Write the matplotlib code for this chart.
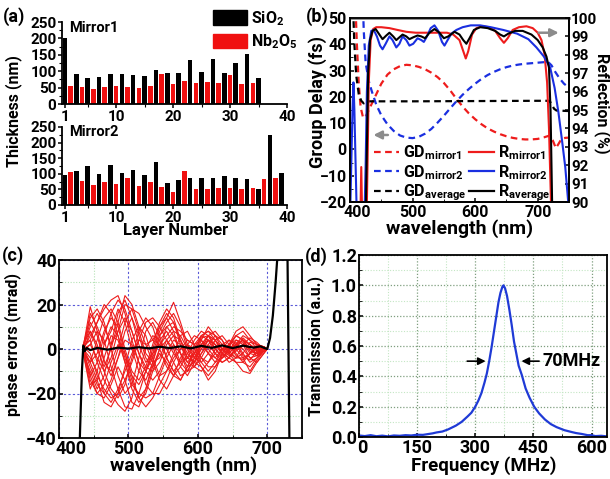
import matplotlib
matplotlib.use("Agg")
import matplotlib.pyplot as plt
from matplotlib.patches import Patch
from matplotlib.lines import Line2D
from matplotlib.ticker import MultipleLocator
from matplotlib.transforms import ScaledTranslation

FONT = 'Roboto'
plt.rcParams['font.family'] = [FONT, 'DejaVu Sans']
plt.rcParams['font.weight'] = 'bold'
plt.rcParams['axes.labelweight'] = 'bold'
plt.rcParams['mathtext.fontset'] = 'custom'
plt.rcParams['mathtext.rm'] = FONT + ':bold'
plt.rcParams['mathtext.it'] = FONT + ':bold:italic'
plt.rcParams['mathtext.bf'] = FONT + ':bold'
plt.rcParams['axes.linewidth'] = 1.3

RED = '#ee1c1c'
BLUE = '#1a2fe0'

# ---- (a) 膜层厚度 (nm)，奇数层 SiO2，偶数层 Nb2O5
m1_thick = [200, 55, 90, 53, 80, 45, 83, 53, 90, 55, 90, 53, 87, 50, 85, 55, 105, 90,
            95, 60, 95, 70, 133, 65, 98, 68, 138, 65, 95, 87, 125, 60, 153, 65, 78]
m2_thick = [95, 105, 108, 78, 125, 65, 100, 75, 127, 67, 103, 85, 112, 62, 97, 73, 138, 57,
            72, 43, 80, 110, 87, 52, 85, 52, 88, 55, 92, 55, 87, 50, 82, 55, 52, 82, 225, 87, 103]

# ---- (b) 群延迟 (fs) 与反射率 (%)
gd1_wl = [408, 411, 414, 417, 421, 426, 432, 440, 450, 460, 470, 480, 490, 500, 510, 520, 530,
          540, 550, 560, 570, 580, 590, 600, 610, 620, 630, 640, 650, 660, 670, 680, 690, 700,
          710, 718, 724, 729, 733, 738, 744, 750]
gd1 = [60, 40, 25, 16, 12, 13, 16, 20, 25, 28.5, 30.5, 31.7, 32.2, 32, 31.4, 30.5, 29.2,
       27.5, 25.3, 22.5, 19.3, 16.3, 13.7, 11.5, 9.6, 8, 6.8, 5.8, 5, 4.4, 4, 3.8, 3.8, 4,
       4.6, 5.2, 3.5, 0.5, 2, 4, 4.4, 4.5]
gd2_wl = [420, 422, 425, 430, 435, 442, 450, 460, 470, 480, 490, 500, 510, 520, 530, 540, 550,
          560, 570, 580, 590, 600, 610, 620, 630, 640, 650, 660, 670, 680, 690, 700, 710, 716,
          722, 728, 735, 742, 750]
gd2 = [60, 45, 33, 26, 22, 17, 13, 9.5, 7, 5.3, 4.5, 4.3, 4.8, 6, 7.8, 10.2, 12.8,
       15.6, 18.3, 20.8, 23, 25, 26.8, 28.3, 29.5, 30.5, 31.3, 31.9, 32.3, 32.6, 32.8, 33, 33.2, 33.4,
       32, 29.5, 27, 25, 23.5]
gda_wl = [404, 407, 410, 414, 418, 422, 426, 430, 500, 600, 700, 718, 722, 726, 730, 750]
gda = [60, 40, 28, 21, 18.5, 17.5, 18.5, 18.3, 18.3, 18.4, 18.5, 18.5, 17.5, 15.5, 14.8, 14.6]

r1_wl = [416, 418, 420, 426, 428, 430, 433, 437, 442, 450, 463, 476, 490, 505, 522, 540, 555,
         565, 575, 581, 585, 589, 595, 602, 612, 622, 632, 640, 646, 652, 660, 670, 682, 692,
         700, 706, 711, 715, 718, 720, 722]
r1 = [88, 91.9, 88, 88, 92, 96.5, 98.8, 99.4, 99.5, 99.5, 99.45, 99.35, 99.25, 99.2, 99.2, 99.2, 99.2,
      99.1, 98.8, 98.2, 97.8, 98.2, 99.1, 99.45, 99.55, 99.5, 99.3, 98.9, 98.65, 98.9, 99.35, 99.5, 99.55, 99.45,
      99.2, 98.8, 98, 96.5, 94, 91.5, 89]
r2_wl = [400, 402, 404, 405.5, 407, 409, 411, 423, 425, 427, 430, 434, 438, 443, 448, 452, 457,
         463, 468, 474, 479, 484, 490, 495, 501, 508, 514, 518, 523, 529, 535, 541, 547, 551,
         556, 562, 570, 580, 593, 608, 625, 645, 667, 685, 698, 710, 720, 727, 733, 739, 744, 748, 750]
r2 = [89, 92, 95, 96.5, 95, 92, 89, 89, 92, 96, 98.5, 99.3, 99.35, 99, 98.5, 98.3, 98.6,
      99, 98.8, 98.4, 98.6, 99, 98.8, 98.5, 98.6, 98.9, 98.8, 98.7, 99, 99.45, 99.6, 99.3, 98.7, 98.5,
      98.8, 99.15, 99.35, 99.5, 99.6, 99.6, 99.5, 99.35, 99.15, 98.85, 98.4, 97.9, 97.3, 96.2, 94.9, 93.3, 91.9, 90.3, 89.5]
ra_wl = [425, 427, 429, 432, 436, 441, 447, 452, 458, 463, 469, 474, 479, 484, 490, 495, 501,
         508, 514, 520, 527, 535, 543, 550, 557, 567, 575, 581, 586, 591, 598, 608, 620, 632,
         640, 646, 653, 664, 676, 690, 700, 708, 714, 718, 720.5, 722, 723.5]
ra = [89, 93, 97, 98.8, 99.3, 99.4, 99.1, 98.85, 99.05, 99.2, 99, 98.8, 98.95, 99.1, 99, 98.85, 98.95,
      99.05, 99, 98.9, 99.2, 99.4, 99.2, 98.9, 99, 99.25, 99.1, 98.8, 98.6, 98.9, 99.35, 99.5, 99.45, 99.3,
      99.1, 99, 99.15, 99.3, 99.3, 99.1, 98.8, 98.4, 97.9, 97.3, 95, 92, 89]

# ---- (c) 相位误差 (mrad)
pe_wl = [435, 445, 455, 465, 475, 485, 495, 505, 515, 525, 535, 545, 555, 565, 575, 585, 595,
         605, 615, 625, 635, 645, 655, 665, 675, 685, 695, 700]
pe_curves = [
    [1, 19, 8, -5, -12, -4, 8, 14, 6, -4, -8, 0, 10, 12, 4, -4, -2, 5, 6, 0, -4, -1, 4, 3, -2, -3, 1, 0],
    [-2, -10, -18, -12, 2, 16, 22, 14, 2, -6, -2, 8, 14, 21, 12, 2, -4, 0, 6, 4, -2, -4, 0, 5, 2, -1, 0, 0],
    [0, 6, 12, 18, 22, 24, 16, 4, -6, -10, -4, 6, 10, 6, -2, -8, -6, 2, 4, 0, -3, 1, 6, 4, 0, -2, 1, 0],
    [-1, -14, -20, -22, -16, -8, -14, -24, -26, -18, -8, -2, -6, -12, -14, -8, -2, 2, -2, -6, -4, 0, 3, -2, -6, -4, -1, 0],
    [2, 4, -6, -14, -20, -25, -28, -22, -10, 0, 6, 4, -4, -10, -6, 2, 6, 4, -2, -4, 0, 4, 2, -3, -5, -1, 1, 0],
    [0, -6, -2, 8, 14, 10, -2, -12, -16, -10, 0, 10, 16, 12, 2, -6, -8, -4, 2, 6, 4, -1, -4, -2, 3, 2, 0, 0],
    [-2, -16, -14, -4, 6, 4, -6, -16, -20, -22, -20, -12, -4, 2, -2, -10, -8, -2, 2, -2, -6, -4, 1, 4, 2, -1, -1, 0],
    [1, 10, 16, 10, 2, 8, 20, 18, 8, -2, -6, -4, 4, 8, 6, 0, -4, -6, -2, 4, 6, 2, -3, -5, -2, 2, 1, 0],
    [0, -4, -10, -20, -24, -18, -10, -2, 4, 2, -6, -14, -18, -12, -4, 2, 0, -6, -10, -6, 0, 2, -2, -6, -8, -4, 0, 0],
    [-1, 2, 8, 4, -8, -18, -26, -27, -20, -10, -2, 2, 0, -6, -12, -10, -4, 2, 6, 4, 0, -2, 2, 6, 4, 0, -1, 0],
    [1, 12, 6, -6, -10, 0, 12, 18, 16, 10, 4, 2, 6, 10, 8, 4, 2, 6, 8, 4, 0, 2, 6, 8, 4, 2, 1, 0],
    [0, -8, -16, -20, -14, -4, 4, 2, -6, -16, -20, -20, -14, -6, 0, 4, 2, -4, -8, -8, -4, 0, 2, 0, -4, -6, -2, 0],
    [-1, -12, -6, 6, 16, 22, 18, 8, -2, -8, -10, -6, 2, 6, 4, -2, -6, -8, -14, -10, -2, 2, 4, 2, -4, -3, 0, 0],
    [2, 14, 18, 12, 0, -12, -20, -16, -4, 8, 12, 6, -4, -10, -14, -8, 0, 6, 4, -2, -4, -2, 2, 4, -1, -2, 0, 0],
    [0, 2, -4, -10, -4, 8, 14, 8, -2, -10, -14, -10, -2, 4, 2, -4, -6, -2, 4, 2, -2, -4, -6, -10, -11, -6, -2, 0],
    [-2, -6, 4, 14, 18, 12, 0, -10, -14, -8, 2, 12, 18, 14, 4, -4, -6, 0, 4, 2, -1, 2, 8, 10, 6, 2, 1, 0],
    [1, -2, -12, -18, -22, -20, -14, -6, 4, 12, 14, 10, 4, -2, -6, -4, 2, 4, 0, -4, -6, -4, 0, 2, 0, -2, -1, 0],
    [-1, 8, 2, -10, -18, -22, -16, -4, 8, 14, 10, 0, -8, -12, -8, -2, 4, 8, 6, 2, -2, -6, -4, 2, 5, 3, 0, 0],
    [0, 16, 10, 2, 8, 18, 12, 0, -10, -14, -6, 4, 8, 2, -6, -10, -4, 4, 10, 6, 0, -3, -1, 2, 0, -2, 0, 0],
    [-1, -6, -14, -24, -26, -20, -8, 4, 10, 6, -4, -12, -10, -2, 6, 8, 2, -4, -6, -2, 2, 4, 0, -4, -10, -5, -1, 0],
    [1, 4, 12, 20, 16, 6, -6, -18, -24, -20, -10, 0, 4, 0, -8, -12, -6, 2, 6, 8, 4, -2, -6, -6, -2, 1, 0, 0],
    [0, -12, -20, -16, -6, 2, -2, -12, -22, -26, -22, -16, -10, -4, 0, 2, -2, -8, -12, -8, -2, 2, 6, 4, 0, -3, -1, 0],
    [2, 8, 0, -8, 0, 12, 24, 20, 10, 2, 4, 10, 14, 8, -2, -6, -2, 6, 8, 6, 2, 0, 2, 4, 2, 0, 1, 0],
    [-2, -18, -10, 2, 10, 6, -4, -14, -22, -18, -6, 6, 12, 16, 10, 0, -8, -10, -6, 0, 2, -2, -4, -4, -2, 0, 0, 0],
]
pe_avg_wl = [428, 431, 433, 435, 437, 440, 445, 455, 470, 485, 500, 515, 530, 545, 560, 575, 590,
             605, 620, 635, 650, 665, 680, 690, 697, 700, 704, 708, 712, 716, 720, 726, 729, 730.5, 732]
pe_avg = [-60, -30, -10, 1.5, -1, 0.5, -0.5, 0.5, -0.3, 0.6, 0.2, 0.8, 0.3, 1.0, 0.4, 1.2, 0.3,
          1.4, 0.5, 1.6, 0.4, 1.5, 0.6, 1.2, 0.3, 0, 5, 15, 30, 48, 80, 80, 45, 0, -45]

# ---- (d) 透射谱
freq = [0, 15, 30, 45, 60, 75, 90, 105, 120, 135, 150, 165, 180, 190, 200, 215, 230, 250, 265,
        280, 290, 300, 308, 316, 324, 330, 336, 342, 348, 354, 360, 365, 370, 373, 377, 382, 388,
        394, 400, 406, 412, 420, 430, 440, 452, 465, 480, 495, 510, 530, 550, 560, 575, 590, 600,
        610, 625, 640]
trans = [0.01, 0.006, 0.012, 0.005, 0.009, 0.004, 0.01, 0.008, 0.012, 0.01, 0.015, 0.014, 0.02,
         0.024, 0.03, 0.036, 0.05, 0.075, 0.1, 0.135, 0.16, 0.2, 0.24, 0.29, 0.36, 0.42, 0.5,
         0.59, 0.69, 0.79, 0.89, 0.95, 0.99, 1.0, 0.98, 0.93, 0.84, 0.74, 0.63, 0.55, 0.47, 0.41,
         0.32, 0.26, 0.2, 0.155, 0.115, 0.085, 0.065, 0.045, 0.032, 0.026, 0.02, 0.012, 0.012,
         0.006, 0.008, 0.004]


def px(x, y):
    return x / 610, 1 - y / 479


def box(x0, y0, x1, y1):
    return [x0 / 610, 1 - y1 / 479, (x1 - x0) / 610, (y1 - y0) / 479]


def label(x, y, s, size, rot=0):
    fig.text(*px(x, y), s, fontsize=size, rotation=rot, ha='center', va='center')


def nudge_first_xlabel(ax, dx_px):
    # 第一个刻度标签右移，避免和 y 轴最下面的标签重叠
    lab = ax.get_xticklabels()[0]
    lab.set_transform(lab.get_transform() + ScaledTranslation(dx_px / 100, 0, fig.dpi_scale_trans))


def draw_layers(ax, thick, name):
    layers = list(range(1, len(thick) + 1))
    colors = ['black' if n % 2 == 1 else '#f01010' for n in layers]
    ax.bar(layers, thick, width=0.8, color=colors)
    ax.set_xlim(0.5, 40)
    ax.set_ylim(0, 250)
    ax.set_xticks([1, 10, 20, 30, 40])
    ax.set_yticks([0, 50, 100, 150, 200, 250])
    ax.xaxis.set_minor_locator(MultipleLocator(5))
    ax.yaxis.set_minor_locator(MultipleLocator(25))
    ax.spines['top'].set_visible(False)
    ax.spines['right'].set_visible(False)
    ax.tick_params(labelsize=11, length=3, width=1.1, pad=1)
    ax.tick_params(which='minor', length=2, width=0.8)
    ax.text(0.03, 0.93, name, transform=ax.transAxes, fontsize=10.5, va='center')


fig = plt.figure(figsize=(6.1, 4.79), dpi=100)

# (a)
ax_a1 = fig.add_axes(box(62, 22, 287, 104))
ax_a2 = fig.add_axes(box(62, 127, 287, 205))
draw_layers(ax_a1, m1_thick, 'Mirror1')
draw_layers(ax_a2, m2_thick, 'Mirror2')
label(176, 231, 'Layer Number', 12)
label(14, 111, 'Thickness (nm)', 11.5, 90)
fig.legend(handles=[Patch(color='black', label='SiO$_2$'), Patch(color='#f01010', label='Nb$_2$O$_5$')],
           loc='upper left', bbox_to_anchor=px(213, 9), frameon=False, fontsize=11.5,
           borderpad=0, borderaxespad=0, handlelength=2.1, handleheight=1.05,
           handletextpad=0.25, labelspacing=0.3)

# (b)
ax_b = fig.add_axes(box(350, 18, 569, 202))
ax_b.plot(gd1_wl, gd1, color=RED, ls=(0, (3, 2)), lw=1.6)
ax_b.plot(gd2_wl, gd2, color=BLUE, ls=(0, (3, 2)), lw=1.6)
ax_b.plot(gda_wl, gda, color='black', ls=(0, (3, 2)), lw=1.6)
ax_b.set_xlim(400, 750)
ax_b.set_ylim(-20, 50)
ax_b.set_xticks([400, 500, 600, 700])
ax_b.set_yticks(range(-20, 51, 10))
ax_b.xaxis.set_minor_locator(MultipleLocator(50))
ax_b.yaxis.set_minor_locator(MultipleLocator(5))
ax_b.tick_params(direction='in', labelsize=11.5, length=3, width=1.1, pad=2.5)
ax_b.tick_params(which='minor', direction='in', length=2)
ax_b.spines['top'].set_color('#888888')
ax_b.spines['top'].set_linewidth(2)
ax_b.annotate('', xy=(433, 5.5), xytext=(465, 5.5),
              arrowprops=dict(arrowstyle='-|>', color='#8c8c8c', lw=1.8, mutation_scale=12))
nudge_first_xlabel(ax_b, 7)
label(460, 229, 'wavelength (nm)', 14)
label(318, 102, 'Group Delay (fs)', 13, 90)

ax_r = ax_b.twinx()
ax_r.plot(r1_wl, r1, color=RED, lw=1.5)
ax_r.plot(r2_wl, r2, color=BLUE, lw=1.5)
ax_r.plot(ra_wl, ra, color='black', lw=1.5)
ax_r.set_ylim(90, 100)
ax_r.set_yticks(range(90, 101))
ax_r.tick_params(direction='in', labelsize=11, length=3, width=1.1, pad=1.5)
ax_r.annotate('', xy=(738, 99.2), xytext=(697, 99.2),
              arrowprops=dict(arrowstyle='-|>', color='#8c8c8c', lw=1.8, mutation_scale=12))
label(602, 103, 'Reflection (%)', 11.5, 270)

handles = [
    Line2D([], [], color=RED, ls=(0, (3, 2)), lw=1.6, label=r'GD$_\mathrm{mirror1}$'),
    Line2D([], [], color=BLUE, ls=(0, (3, 2)), lw=1.6, label=r'GD$_\mathrm{mirror2}$'),
    Line2D([], [], color='black', ls=(0, (3, 2)), lw=1.6, label=r'GD$_\mathrm{average}$'),
    Line2D([], [], color=RED, lw=1.6, label=r'R$_\mathrm{mirror1}$'),
    Line2D([], [], color=BLUE, lw=1.6, label=r'R$_\mathrm{mirror2}$'),
    Line2D([], [], color='black', lw=1.6, label=r'R$_\mathrm{average}$'),
]
ax_r.legend(handles=handles, ncol=2, loc='lower left', bbox_to_anchor=(0.11, -0.005),
            frameon=False, fontsize=11.5, borderpad=0, borderaxespad=0,
            handlelength=1.55, handletextpad=0.25, columnspacing=0.2, labelspacing=0.05)

# (c)
ax_c = fig.add_axes(box(59, 260, 302, 438))
for curve in pe_curves:
    ax_c.plot(pe_wl, curve, color=RED, lw=0.8)
ax_c.plot(pe_avg_wl, pe_avg, color='black', lw=1.6)
ax_c.set_xlim(400, 750)
ax_c.set_ylim(-40, 40)
ax_c.set_xticks([400, 500, 600, 700])
ax_c.set_yticks([-40, -20, 0, 20, 40])
ax_c.xaxis.set_minor_locator(MultipleLocator(50))
ax_c.yaxis.set_minor_locator(MultipleLocator(10))
ax_c.grid(which='major', color='#5a5ad8', ls=(0, (2, 2)), lw=0.8)
ax_c.grid(which='minor', color='#b6e2b6', ls=(0, (1, 1.5)), lw=0.8)
ax_c.set_axisbelow(True)
ax_c.tick_params(direction='in', labelsize=13, length=3, width=1.1, pad=1.5)
ax_c.tick_params(which='minor', direction='in', length=2)
nudge_first_xlabel(ax_c, 12)
label(184, 466, 'wavelength (nm)', 14)
label(13, 345, 'phase errors (mrad)', 11.5, 90)

# (d)
ax_d = fig.add_axes(box(359, 255, 607, 437))
ax_d.plot(freq, trans, color='#1f3ad6', lw=1.6)
ax_d.set_xlim(0, 640)
ax_d.set_ylim(0, 1.2)
ax_d.set_xticks([0, 150, 300, 450, 600])
ax_d.set_yticks([0, 0.2, 0.4, 0.6, 0.8, 1.0, 1.2])
ax_d.set_yticklabels(['0.0', '0.2', '0.4', '0.6', '0.8', '1.0', '1.2'])
ax_d.xaxis.set_minor_locator(MultipleLocator(75))
ax_d.yaxis.set_minor_locator(MultipleLocator(0.1))
ax_d.grid(which='major', color='#7f9f7f', ls=(0, (1, 1.5)), lw=0.9)
ax_d.grid(which='minor', color='#c4e6c4', ls=(0, (1, 1.5)), lw=0.8)
ax_d.set_axisbelow(True)
ax_d.tick_params(direction='in', labelsize=13, length=3, width=1.1, pad=1.5)
ax_d.tick_params(which='minor', direction='in', length=2)
nudge_first_xlabel(ax_d, 3)
ax_d.annotate('', xy=(334, 0.5), xytext=(272, 0.5),
              arrowprops=dict(arrowstyle='-|>', color='black', lw=1.2, mutation_scale=11))
ax_d.annotate('', xy=(412, 0.5), xytext=(472, 0.5),
              arrowprops=dict(arrowstyle='-|>', color='black', lw=1.2, mutation_scale=11))
ax_d.text(474, 0.5, '70MHz', fontsize=13, va='center', ha='left')
label(484, 466, 'Frequency (MHz)', 13.5)
label(316, 346, 'Transmission (a.u.)', 11.5, 90)

# 子图标号
for lab, (x, y) in zip(['(a)', '(b)', '(c)', '(d)'], [(3, 17), (306, 17), (2, 256), (305, 257)]):
    fig.text(*px(x, y), lab, fontsize=13, va='center', ha='left')

fig.savefig('out.png', dpi=100)
